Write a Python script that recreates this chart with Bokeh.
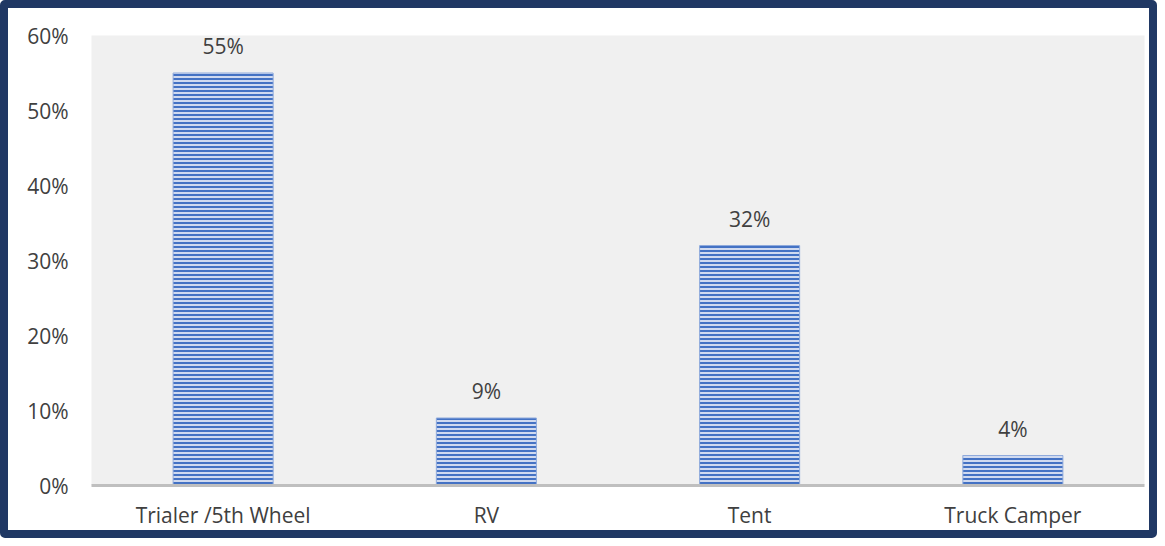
from bokeh.plotting import figure
from bokeh.models import ColumnDataSource, NumeralTickFormatter, LabelSet, FixedTicker
from bokeh.core.properties import value
from bokeh.embed import file_html
from bokeh.resources import INLINE

categories = ["Trialer /5th Wheel", "RV", "Tent", "Truck Camper"]
shares = [0.55, 0.09, 0.32, 0.04]
labels = ["55%", "9%", "32%", "4%"]
y_ticks = [0, 0.1, 0.2, 0.3, 0.4, 0.5, 0.6]

FONT = "Open Sans"
FS = "21px"
src = ColumnDataSource(dict(cat=categories, val=shares, lab=labels))

p = figure(x_range=categories, y_range=(0, 0.6), width=1157, height=538,
           output_backend="svg", toolbar_location=None,
           background_fill_color="#F0F0F0", border_fill_color="white",
           min_border_left=83, min_border_right=21, min_border_top=27, min_border_bottom=61)
p.styles = {"border": "8px solid #203864", "border-radius": "5px"}
p.outline_line_color = None
p.x_range.range_padding = 0

p.vbar(x="cat", top="val", width=0.38, source=src,
       fill_color="#D0DAF0", line_color="#8FAADC", line_width=1,
       hatch_pattern="horizontal_line", hatch_color="#4472C4",
       hatch_scale=4, hatch_weight=2)

p.add_layout(LabelSet(x="cat", y="val", text="lab", source=src,
                      text_align="center", text_baseline="bottom", y_offset=13,
                      text_font=value(FONT), text_font_size=value(FS),
                      text_color=value("#404040")))

p.xgrid.visible = False
p.ygrid.visible = False
p.yaxis.ticker = FixedTicker(ticks=y_ticks)
p.yaxis.formatter = NumeralTickFormatter(format="0%")
p.yaxis.axis_line_color = None
p.yaxis.major_tick_line_color = None
p.yaxis.minor_tick_line_color = None
p.yaxis.major_label_standoff = 17
p.xaxis.axis_line_color = "#BFBFBF"
p.xaxis.axis_line_width = 3
p.xaxis.major_tick_line_color = None
p.xaxis.minor_tick_line_color = None
p.xaxis.major_label_standoff = 9
for ax in (p.xaxis, p.yaxis):
    ax.major_label_text_font = FONT
    ax.major_label_text_font_size = FS
    ax.major_label_text_color = "#404040"

open("out.html", "w").write(file_html(p, INLINE))
